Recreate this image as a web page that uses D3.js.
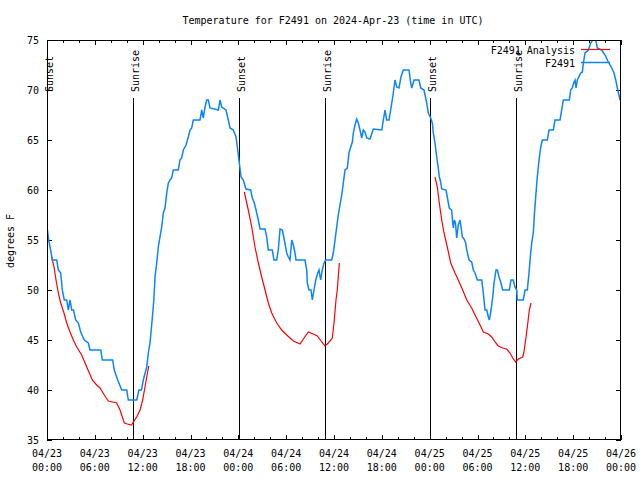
<!DOCTYPE html>
<html><head><meta charset="utf-8">
<script src="https://cdn.jsdelivr.net/npm/d3@7"></script>
<style>
body{margin:0;background:#fff;}
text{font-family:"DejaVu Sans Mono","Liberation Mono",monospace;font-size:10px;fill:#000;}
</style></head><body>
<svg id="c" width="640" height="480"></svg>
<script>
// ---- data (hours since 2024-04-23 00:00 UTC, degrees F) ----
const obsHours = [0.04,0.21,0.5,0.66,1.22,1.42,1.72,1.92,2.17,2.47,2.67,2.89,3.10,3.32,3.60,3.93,4.23,4.68,5.18,5.39,6.74,6.94,8.24,8.44,8.87,9.37,10.0,10.2,11.25,11.54,11.85,12.08,12.51,12.71,12.92,13.13,13.33,13.42,13.55,13.76,13.96,14.17,14.39,14.59,14.80,15.02,15.22,15.43,15.64,15.84,16.47,16.68,16.89,17.10,17.44,17.72,17.94,18.15,18.35,19.19,19.41,19.61,19.82,20.03,20.23,20.45,21.49,21.70,21.91,22.45,22.74,22.96,23.37,23.71,23.92,24.08,24.34,24.62,24.96,25.55,25.75,25.97,26.22,26.51,26.72,27.35,27.56,27.76,28.26,28.47,28.81,29.01,29.23,29.52,29.77,30.07,30.27,30.48,30.70,30.90,31.11,31.23,32.36,32.58,32.65,32.86,33.12,33.28,33.49,33.71,33.96,34.12,34.33,34.53,34.75,34.96,35.71,35.91,36.13,36.34,36.54,36.75,36.97,37.17,37.38,37.67,37.88,38.10,38.30,38.42,38.64,38.85,39.05,39.26,39.48,39.68,39.89,40.10,40.52,40.93,41.99,42.19,42.40,42.61,42.90,43.11,43.44,43.65,43.87,44.15,44.40,44.69,45.41,45.62,45.75,46.04,46.66,46.88,47.29,47.63,47.83,48.13,48.33,48.46,48.67,48.88,49.08,49.21,49.38,49.51,50.05,50.21,50.46,50.76,50.89,50.97,51.09,51.24,51.39,51.59,51.81,51.93,52.10,52.31,52.52,52.65,52.94,53.27,53.48,53.69,53.98,54.53,54.73,54.94,55.16,55.36,55.48,55.70,55.91,56.07,56.32,56.49,56.70,56.91,57.16,57.99,58.20,58.49,58.70,58.92,58.99,59.74,59.96,60.25,60.46,60.67,60.80,61.00,61.13,61.30,61.50,61.72,61.93,62.13,62.76,62.97,63.51,63.72,64.35,64.56,64.76,65.52,65.69,65.89,66.11,66.23,66.36,66.52,66.95,67.15,67.28,67.49,67.90,68.20,68.45,68.83,69.03,69.58,70.0,70.41,70.84,71.12,71.34,71.54,71.75,71.88];
const obsTemps = [56.1,55,53.8,53,53,52,51.7,50,49,49,48,49,48,48,47,46.7,45.8,45,44.7,44,44,43,43,42,41,40,40,39,39,40,40,41,42.3,43.7,44.7,46.5,48.3,49.3,51.3,52.7,54.3,55.3,56.3,57.7,58.2,59.7,60.7,61,61.2,62,62,63,63.2,64,64.5,65.3,66,66.2,67,67,68,67.2,68.3,69,69,68.2,68,69,68.3,68,67,66.2,66,65.3,64,63,61.3,61,60.1,60,59.2,58.8,58,57,56.1,56.1,55.3,54,54,53,53,54,56.1,56,55,53.7,53.3,53,55,54.5,53.7,53,53,52,50.7,50,50,49,50,51,51.7,52,51,52,52.7,53,53,53.7,55,56.3,57.5,58.5,59.5,60.7,62,62.2,63.7,64.3,64.8,65.7,66.5,67.1,66.7,66,65.2,66,65.8,65.2,65.1,66.1,66,67,68,67,67,68,69.7,71,70.3,70.2,71.3,72,72,70.7,70.2,71,71,70.2,70,68.7,67.7,67.2,66.7,65.7,64.7,63.3,62.2,61.3,60.8,60.1,60,59.3,58.2,58,56.7,56.2,57,56.7,55.2,56.5,57,56.3,55.3,55.1,54.7,54,53,52.8,52,51.7,51,51,49.7,48,48,47.3,47,48,49.3,50.7,52,52,51.3,50.8,50,50,51,51,50.3,50,49,49,50,50,51.7,53.7,54.7,55.7,57.5,59.3,61.3,63,64.3,65,65,66,66,67,67,68,69,69,70,70.2,70.8,71,70.2,71,71.7,71.8,72.7,73.7,74,74.7,75,75,74.2,74,73.5,72.8,72.2,71.7,71,70.2,69.5,69];

const anaHours1 = [0.59,0.88,1.13,1.42,1.72,2.13,2.47,2.89,3.30,3.73,4.35,4.77,5.31,5.68,6.23,6.65,7.19,7.69,8.24,8.74,9.16,9.70,10.07,10.62,10.83,11.25,11.67,12.00,12.29,12.51,12.76];
const anaTemps1 = [53.3,52.3,51,49.7,48.7,47.7,46.7,45.8,45,44.3,43.5,42.7,41.7,41,40.5,40.2,39.5,38.9,38.8,38.7,38,36.7,36.6,36.5,36.8,37.3,38,39,40.3,41.3,42.4];
const anaHours2 = [24.75,25.25,25.68,26.09,26.51,26.93,27.35,27.76,28.19,28.81,29.44,30.07,30.90,31.74,32.24,32.78,33.40,33.91,34.46,34.87,35.29,35.79,36.00,36.25,36.41,36.67];
const anaTemps2 = [59.8,58,56.3,54.3,52.7,51.3,50,48.7,47.7,46.7,46,45.5,44.9,44.6,45.2,45.8,45.6,45.4,44.8,44.4,44.7,45.2,46.7,49,50,52.7];
const anaHours3 = [48.67,48.96,49.21,49.51,49.80,50.21,50.64,51.18,51.59,52.14,52.65,53.27,53.69,54.32,54.73,55.36,55.78,56.20,56.61,57.16,57.66,58.08,58.42,58.79,59.12,59.67,59.83,60.09,60.25,60.50,60.71];
const anaTemps3 = [61.3,60.3,58.7,57,55.7,54.3,52.7,51.7,51,50,49,48.2,47.5,46.5,45.8,45.6,45.3,44.8,44.4,44.2,44.1,43.7,43.2,42.8,43.1,43.3,43.8,45.3,46.3,48,48.7];

const sunEventHours = [0.02,10.85,24.05,34.88,48.1,58.85];
const sunEventLabels = ["Sunset","Sunrise","Sunset","Sunrise","Sunset","Sunrise"];

const xTickHours = [0,6,12,18,24,30,36,42,48,54,60,66,72];
const xTickDates = ["04/23","04/23","04/23","04/23","04/24","04/24","04/24","04/24","04/25","04/25","04/25","04/25","04/26"];
const xTickTimes = ["00:00","06:00","12:00","18:00","00:00","06:00","12:00","18:00","00:00","06:00","12:00","18:00","00:00"];
const yTicks = [35,40,45,50,55,60,65,70,75];

const titleText = "Temperature for F2491 on 2024-Apr-23 (time in UTC)";
const seriesNames = ["F2491 Analysis","F2491"];
const seriesColors = ["#ff0000","#0a84ff"];

// ---- drawing ----
const base = Date.UTC(2024,3,23,0,0,0);
const toDate = h => new Date(base + h*3600000);
const L=47, R=621, T=40, B=440;
const x = d3.scaleUtc().domain([toDate(0),toDate(72)]).range([L,R]);
const y = d3.scaleLinear().domain([35,75]).range([B,T]);
const svg = d3.select("#c");

svg.append("defs").append("clipPath").attr("id","clip")
  .append("rect").attr("x",L).attr("y",T).attr("width",R-L).attr("height",B-T);

// title
svg.append("text").attr("x",333).attr("y",24).attr("text-anchor","middle").text(titleText);

// minor/major ticks bottom & top
const tickAxis = (g, sizeMajor, sizeMinor, orient) => {};
const bottomMinor = d3.axisBottom(x).tickValues(d3.range(0,73,2).map(toDate)).tickSizeInner(-3).tickSizeOuter(0).tickFormat("");
const bottomMajor = d3.axisBottom(x).tickValues(xTickHours.map(toDate)).tickSizeInner(-5).tickSizeOuter(0).tickFormat("");
const topMinor = d3.axisTop(x).tickValues(d3.range(0,73,2).map(toDate)).tickSizeInner(-3).tickSizeOuter(0).tickFormat("");
const topMajor = d3.axisTop(x).tickValues(xTickHours.map(toDate)).tickSizeInner(-5).tickSizeOuter(0).tickFormat("");
[[bottomMinor,B],[bottomMajor,B],[topMinor,T],[topMajor,T]].forEach(([a,ty])=>{
  const g = svg.append("g").attr("transform",`translate(0,${ty})`).call(a);
  g.select(".domain").remove();
  g.selectAll("line").attr("stroke","#000").attr("shape-rendering","crispEdges");
});
const leftAx = d3.axisLeft(y).tickValues(yTicks).tickSizeInner(-5).tickSizeOuter(0).tickFormat("");
const rightAx = d3.axisRight(y).tickValues(yTicks).tickSizeInner(-5).tickSizeOuter(0).tickFormat("");
[[leftAx,L],[rightAx,R]].forEach(([a,tx])=>{
  const g = svg.append("g").attr("transform",`translate(${tx},0)`).call(a);
  g.select(".domain").remove();
  g.selectAll("line").attr("stroke","#000").attr("shape-rendering","crispEdges");
});

// y labels
svg.append("g").selectAll("text").data(yTicks).join("text")
  .attr("x",L-8).attr("y",d=>y(d)+3.5).attr("text-anchor","end").text(d=>d);
// x labels
xTickHours.forEach((h,i)=>{
  const t = svg.append("text").attr("text-anchor","middle").attr("x",x(toDate(h)));
  t.append("tspan").attr("x",x(toDate(h))).attr("y",457).text(xTickDates[i]);
  t.append("tspan").attr("x",x(toDate(h))).attr("y",471).text(xTickTimes[i]);
});
// axis label
svg.append("text").attr("transform","translate(14,241) rotate(-90)").attr("text-anchor","middle").text("degrees F");

// sun events
sunEventHours.forEach((h,i)=>{
  const xx = Math.round(x(toDate(h)))+0.5;
  svg.append("line").attr("x1",xx).attr("x2",xx).attr("y1",98).attr("y2",B).attr("stroke","#000").attr("stroke-width",1);
  svg.append("text").attr("transform",`translate(${xx+5},92) rotate(-90)`).attr("text-anchor","start").text(sunEventLabels[i]);
});

// data lines
const line = d3.line().x(d=>x(toDate(d[0]))).y(d=>y(d[1]));
const plot = svg.append("g").attr("clip-path","url(#clip)");
[[anaHours1,anaTemps1],[anaHours2,anaTemps2],[anaHours3,anaTemps3]].forEach(([hs,ts])=>{
  plot.append("path").datum(hs.map((h,i)=>[h,ts[i]])).attr("d",line)
    .attr("fill","none").attr("stroke",seriesColors[0]).attr("stroke-width",1.2);
});
plot.append("path").datum(obsHours.map((h,i)=>[h,obsTemps[i]])).attr("d",line)
  .attr("fill","none").attr("stroke",seriesColors[1]).attr("stroke-width",1.5);

// border
svg.append("rect").attr("x",L+0.5).attr("y",T+0.5).attr("width",R-L-1).attr("height",B-T-1)
  .attr("fill","none").attr("stroke","#000").attr("stroke-width",1);

// legend
seriesNames.forEach((n,i)=>{
  const yy = 50 + i*13;
  svg.append("text").attr("x",575).attr("y",yy+3.5).attr("text-anchor","end").text(n);
  svg.append("line").attr("x1",581).attr("x2",610).attr("y1",yy-0.5).attr("y2",yy-0.5)
    .attr("stroke",seriesColors[i]).attr("stroke-width",i==0?1.2:1.5);
});
</script>
</body></html>
